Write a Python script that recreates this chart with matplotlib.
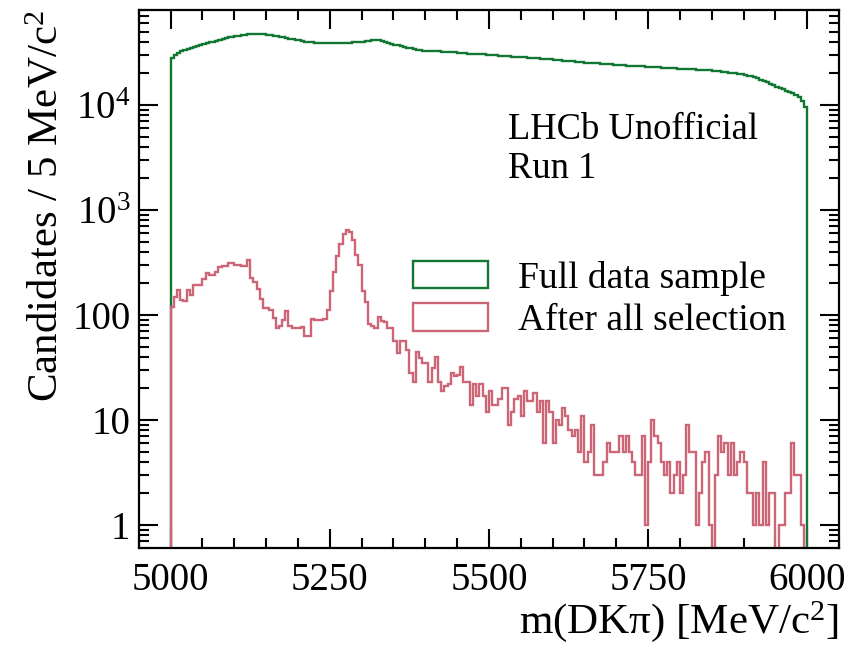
import numpy as np
import matplotlib
matplotlib.use('Agg')
import matplotlib.pyplot as plt
from matplotlib.ticker import FixedLocator, FixedFormatter, MultipleLocator, LogLocator, NullFormatter

# 5 MeV bins between 5000 and 6000
bin_edges = np.arange(5000, 6001, 5)

# full sample, counts per bin
full_counts = [
    27800, 29800, 31500, 32600, 33400, 34200, 35000, 35800, 36500, 37200,
    37900, 38700, 39500, 40300, 41100, 41900, 42700, 43400, 44100, 44700,
    45300, 45800, 46300, 46700, 47000, 47200, 47300, 47300, 47200, 47000,
    46700, 46300, 45800, 45200, 44600, 44000, 43400, 42800, 42200, 41700,
    41200, 40700, 40300, 39900, 39600, 39300, 39100, 38900, 38800, 38700,
    38700, 38700, 38800, 38900, 39000, 39200, 39400, 39600, 39800, 40000,
    40300, 40600, 41000, 41400, 41600, 41300, 40600, 39800, 39000, 38300,
    37600, 37000, 36400, 35800, 35200, 34700, 34200, 33800, 33400, 33000,
    32800, 32700, 32600, 32500, 32400, 32300, 32200, 32100, 31900, 31700,
    31400, 31200, 31000, 30900, 30800, 30700, 30600, 30500, 30400, 30300,
    30100, 29900, 29700, 29500, 29400, 29200, 29100, 28900, 28800, 28700,
    28500, 28400, 28200, 28100, 27900, 27800, 27600, 27500, 27300, 27200,
    27000, 26900, 26700, 26500, 26400, 26200, 26100, 25900, 25800, 25600,
    25400, 25300, 25200, 25000, 24900, 24800, 24700, 24500, 24400, 24300,
    24100, 24000, 23900, 23800, 23700, 23600, 23500, 23400, 23300, 23200,
    23100, 23000, 22900, 22800, 22700, 22600, 22500, 22400, 22300, 22200,
    22200, 22100, 22000, 21900, 21900, 21800, 21700, 21600, 21500, 21400,
    21300, 21100, 21000, 20800, 20600, 20400, 20200, 20000, 19800, 19600,
    19400, 19100, 18800, 18400, 18000, 17500, 17000, 16500, 16000, 15500,
    15000, 14500, 14100, 13700, 13300, 12900, 12500, 12000, 11000, 9500,
]

# after the full selection
selected_counts = [
    120, 150, 173, 139, 135, 173, 155, 193, 193, 193,
    220, 249, 238, 238, 257, 285, 295, 295, 311, 311,
    299, 299, 293, 293, 334, 224, 208, 178, 141, 116,
    116, 112, 93, 75, 79, 90, 110, 79, 75, 76,
    76, 77, 63, 63, 92, 89, 89, 89, 91, 112,
    171, 255, 367, 475, 591, 645, 622, 518, 373, 299,
    171, 132, 82, 78, 75, 96, 88, 86, 75, 75,
    56, 43, 56, 56, 46, 28, 23, 44, 39, 35,
    35, 23, 31, 40, 23, 19, 21, 22, 28, 26,
    27, 32, 23, 23, 14, 22, 17, 22, 17, 12,
    19, 14, 14, 16, 20, 20, 9, 12, 16, 17,
    11, 19, 15, 15, 18, 12, 15, 6, 15, 12,
    6, 10, 9, 13, 11, 8, 7, 8, 5, 11,
    4, 5, 9, 3, 3, 3, 4, 6, 5, 5,
    5, 7, 5, 7, 5, 4, 3, 3, 7, 1,
    4, 10, 7, 6, 4, 3, 4, 2, 3, 4,
    2, 3, 9, 5, 5, 1, 2, 4, 5, 1,
    0, 3, 7, 5, 6, 3, 6, 3, 4, 5,
    4, 2, 2, 1, 2, 1, 4, 1, 2, 2,
    0, 1, 1, 2, 2, 6, 3, 3, 1, 0,
]

y_ticks = [1, 10, 100, 1000, 10000]
y_tick_labels = ['1', '10', '100', r'$10^{3}$', r'$10^{4}$']
x_ticks = [5000, 5250, 5500, 5750, 6000]

plt.rcParams['font.family'] = 'Liberation Serif'
plt.rcParams['mathtext.fontset'] = 'custom'
plt.rcParams['mathtext.rm'] = 'Liberation Serif'
plt.rcParams['mathtext.it'] = 'Liberation Serif:italic'
plt.rcParams['font.size'] = 28

fig = plt.figure(figsize=(8.57, 6.45), dpi=100)
ax = fig.add_axes([0.162, 0.150, 0.817, 0.835])

ax.hist(bin_edges[:-1], bins=bin_edges, weights=full_counts, histtype='step',
        color='#117733', linewidth=1.7, label='Full data sample')
ax.hist(bin_edges[:-1], bins=bin_edges, weights=selected_counts, histtype='step',
        color='#CC6677', linewidth=1.7, label='After all selection')

ax.set_yscale('log', nonpositive='clip')
ax.set_xlim(4950, 6050)
ax.set_ylim(0.6, 8.1e4)

ax.xaxis.set_major_locator(FixedLocator(x_ticks))
ax.xaxis.set_minor_locator(MultipleLocator(50))
ax.yaxis.set_major_locator(FixedLocator(y_ticks))
ax.yaxis.set_major_formatter(FixedFormatter(y_tick_labels))
ax.yaxis.set_minor_locator(LogLocator(base=10, subs=np.arange(2, 10)))
ax.yaxis.set_minor_formatter(NullFormatter())

ax.tick_params(which='both', direction='in', top=True, right=True, width=1.5)
ax.tick_params(which='major', length=14)
ax.tick_params(which='minor', length=7)
ax.tick_params(axis='x', pad=10)
ax.tick_params(axis='y', pad=6)
for s in ax.spines.values():
    s.set_linewidth(1.6)

ax.set_xlabel('m(DKπ) [MeV/c$^{2}$]', ha='right', x=1.0, fontsize=31, labelpad=0)
ax.set_ylabel('Candidates / 5 MeV/c$^{2}$', ha='right', y=1.0, fontsize=31, labelpad=4)

ax.text(0.527, 0.81, 'LHCb Unofficial\nRun 1', transform=ax.transAxes,
        ha='left', va='top', linespacing=1.2, fontsize=26.3)

ax.legend(loc='upper left', bbox_to_anchor=(0.37, 0.562), frameon=False, fontsize=27,
          handlelength=2.0, handleheight=0.75, handletextpad=0.8,
          labelspacing=0.2, borderaxespad=0.0)

fig.savefig('out.png', dpi=100)
